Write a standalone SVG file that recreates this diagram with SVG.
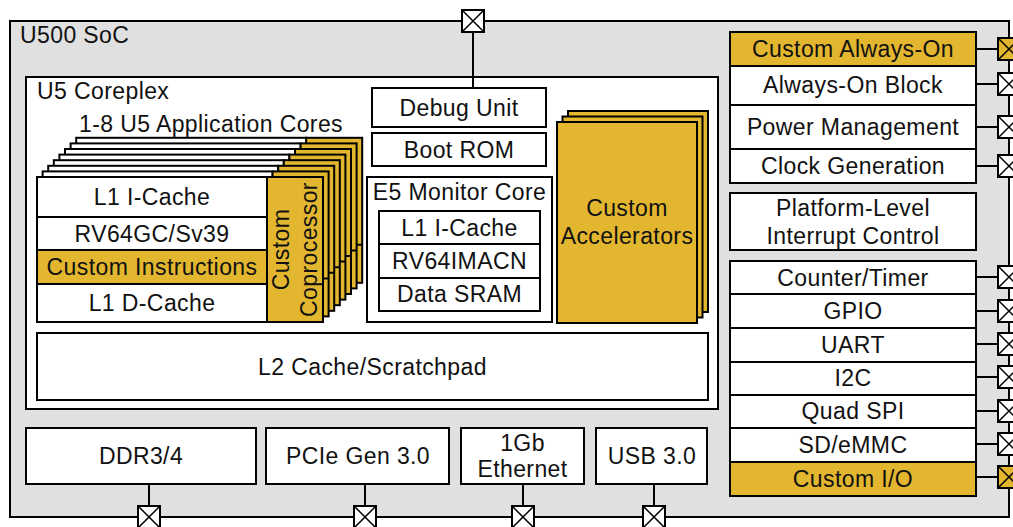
<svg xmlns="http://www.w3.org/2000/svg" width="1013" height="527" viewBox="0 0 1013 527">
<style>
.w{fill:#fff;stroke:#000;stroke-width:2}
.y{fill:#E3B62F;stroke:#000;stroke-width:2}
.g{fill:#e0e0e0;stroke:#000;stroke-width:2}
.t{font-family:"Liberation Sans",Arial,sans-serif;font-size:23px;letter-spacing:0.4px;fill:#111;text-anchor:middle}
.s{text-anchor:start}
.c{stroke:#000;stroke-width:2;fill:none}
</style>
<defs>
<g id="pinw"><rect x="-11" y="-11" width="22" height="22" fill="#fff" stroke="#000" stroke-width="2"/><path d="M-11,-11L11,11M11,-11L-11,11" stroke="#000" stroke-width="1.5"/></g>
<g id="piny"><rect x="-11" y="-11" width="22" height="22" fill="#E3B62F" stroke="#000" stroke-width="2"/><path d="M-11,-11L11,11M11,-11L-11,11" stroke="#000" stroke-width="1.5"/></g>
</defs>

<g id="soc">
<rect class="g" x="10" y="21" width="999" height="496"/>
<text class="t s" x="20" y="43">U500 SoC</text>
</g>

<g id="coreplex">
<rect class="w" x="26" y="77" width="692" height="332"/>
<text class="t s" x="37" y="99">U5 Coreplex</text>
</g>

<g id="app-cores">
<text class="t" x="211" y="132">1-8 U5 Application Cores</text>
<g id="core-stack">
<rect class="w" x="76.2" y="137.8" width="230" height="145"/><rect class="y" x="306.2" y="137.8" width="56" height="145"/><line class="c" x1="76.2" y1="244.8" x2="362.2" y2="244.8"/>
<rect class="w" x="70.6" y="143.4" width="230" height="145"/><rect class="y" x="300.6" y="143.4" width="56" height="145"/><line class="c" x1="70.6" y1="250.4" x2="356.6" y2="250.4"/>
<rect class="w" x="65" y="149" width="230" height="145"/><rect class="y" x="295" y="149" width="56" height="145"/><line class="c" x1="65" y1="256" x2="351" y2="256"/>
<rect class="w" x="59.4" y="154.6" width="230" height="145"/><rect class="y" x="289.4" y="154.6" width="56" height="145"/><line class="c" x1="59.4" y1="261.6" x2="345.4" y2="261.6"/>
<rect class="w" x="53.8" y="160.2" width="230" height="145"/><rect class="y" x="283.8" y="160.2" width="56" height="145"/><line class="c" x1="53.8" y1="267.2" x2="339.8" y2="267.2"/>
<rect class="w" x="48.2" y="165.8" width="230" height="145"/><rect class="y" x="278.2" y="165.8" width="56" height="145"/><line class="c" x1="48.2" y1="272.8" x2="334.2" y2="272.8"/>
<rect class="w" x="42.6" y="171.4" width="230" height="145"/><rect class="y" x="272.6" y="171.4" width="56" height="145"/><line class="c" x1="42.6" y1="278.4" x2="328.6" y2="278.4"/>
</g>
<g id="core-front">
<rect class="w" x="37" y="177" width="230" height="40"/>
<text class="t" x="152" y="205">L1 I-Cache</text>
<rect class="w" x="37" y="217" width="230" height="33"/>
<text class="t" x="152" y="242">RV64GC/Sv39</text>
<rect class="y" x="37" y="250" width="230" height="34"/>
<text class="t" x="152" y="275">Custom Instructions</text>
<rect class="w" x="37" y="284" width="230" height="38"/>
<text class="t" x="152" y="311">L1 D-Cache</text>
</g>
<g id="coprocessor">
<rect class="y" x="267" y="177" width="56" height="145"/>
<text class="t" transform="translate(288.5,249.5) rotate(-90)">Custom</text>
<text class="t" transform="translate(316.5,249.5) rotate(-90)">Coprocessor</text>
</g>
</g>

<g id="debug-unit">
<rect class="w" x="372" y="88" width="174" height="39"/>
<text class="t" x="459" y="116">Debug Unit</text>
</g>
<g id="boot-rom">
<rect class="w" x="372" y="133" width="174" height="33"/>
<text class="t" x="459" y="158">Boot ROM</text>
</g>
<g id="e5-monitor">
<rect class="w" x="367" y="177" width="185" height="145"/>
<text class="t" x="459.5" y="200">E5 Monitor Core</text>
<rect class="w" x="379" y="211" width="161" height="33"/>
<text class="t" x="459.5" y="236">L1 I-Cache</text>
<rect class="w" x="379" y="244" width="161" height="34"/>
<text class="t" x="459.5" y="269">RV64IMACN</text>
<rect class="w" x="379" y="278" width="161" height="33"/>
<text class="t" x="459.5" y="302">Data SRAM</text>
</g>

<g id="accelerators">
<rect class="y" x="568" y="111" width="140" height="201"/>
<rect class="y" x="562.5" y="116.5" width="140" height="201"/>
<rect class="y" x="557" y="122" width="140" height="201"/>
<text class="t" x="627" y="216">Custom</text>
<text class="t" x="627" y="244">Accelerators</text>
</g>

<g id="l2">
<rect class="w" x="37" y="333" width="671" height="67"/>
<text class="t" x="372.5" y="375">L2 Cache/Scratchpad</text>
</g>

<g id="always-on">
<rect class="y" x="730" y="32" width="246" height="34"/>
<text class="t" x="853" y="57">Custom Always-On</text>
<rect class="w" x="730" y="66" width="246" height="39"/>
<text class="t" x="853" y="93">Always-On Block</text>
<rect class="w" x="730" y="105" width="246" height="44"/>
<text class="t" x="853" y="135">Power Management</text>
<rect class="w" x="730" y="149" width="246" height="34"/>
<text class="t" x="853" y="174">Clock Generation</text>
</g>

<g id="plic">
<rect class="w" x="730" y="193" width="246" height="57"/>
<text class="t" x="853" y="216">Platform-Level</text>
<text class="t" x="853" y="244">Interrupt Control</text>
</g>

<g id="peripherals">
<rect class="w" x="730" y="261" width="246" height="33"/>
<text class="t" x="853" y="286">Counter/Timer</text>
<rect class="w" x="730" y="294" width="246" height="34"/>
<text class="t" x="853" y="319">GPIO</text>
<rect class="w" x="730" y="328" width="246" height="34"/>
<text class="t" x="853" y="353">UART</text>
<rect class="w" x="730" y="362" width="246" height="33"/>
<text class="t" x="853" y="386">I2C</text>
<rect class="w" x="730" y="395" width="246" height="33"/>
<text class="t" x="853" y="419">Quad SPI</text>
<rect class="w" x="730" y="428" width="246" height="34"/>
<text class="t" x="853" y="453">SD/eMMC</text>
<rect class="y" x="730" y="462" width="246" height="34"/>
<text class="t" x="853" y="487">Custom I/O</text>
</g>

<g id="ddr">
<rect class="w" x="26" y="428" width="230" height="56"/>
<text class="t" x="141" y="464">DDR3/4</text>
</g>
<g id="pcie">
<rect class="w" x="266" y="428" width="183" height="56"/>
<text class="t" x="358" y="464">PCIe Gen 3.0</text>
</g>
<g id="ethernet">
<rect class="w" x="461" y="428" width="123" height="56"/>
<text class="t" x="522.5" y="451">1Gb</text>
<text class="t" x="522.5" y="477">Ethernet</text>
</g>
<g id="usb">
<rect class="w" x="596" y="428" width="111" height="56"/>
<text class="t" x="652" y="464">USB 3.0</text>
</g>

<g id="connectors">
<line class="c" x1="473" y1="32" x2="473" y2="88"/>
<line class="c" x1="976" y1="49" x2="998" y2="49"/>
<line class="c" x1="976" y1="84" x2="998" y2="84"/>
<line class="c" x1="976" y1="127" x2="998" y2="127"/>
<line class="c" x1="976" y1="166" x2="998" y2="166"/>
<line class="c" x1="976" y1="277" x2="998" y2="277"/>
<line class="c" x1="976" y1="311" x2="998" y2="311"/>
<line class="c" x1="976" y1="344" x2="998" y2="344"/>
<line class="c" x1="976" y1="377" x2="998" y2="377"/>
<line class="c" x1="976" y1="411" x2="998" y2="411"/>
<line class="c" x1="976" y1="444" x2="998" y2="444"/>
<line class="c" x1="976" y1="477" x2="998" y2="477"/>
<line class="c" x1="149" y1="484" x2="149" y2="506"/>
<line class="c" x1="365" y1="484" x2="365" y2="506"/>
<line class="c" x1="523" y1="484" x2="523" y2="506"/>
<line class="c" x1="654" y1="484" x2="654" y2="506"/>
</g>

<g id="pins">
<use href="#pinw" x="473" y="21"/>
<use href="#piny" x="1009" y="49"/>
<use href="#pinw" x="1009" y="84"/>
<use href="#pinw" x="1009" y="127"/>
<use href="#pinw" x="1009" y="166"/>
<use href="#pinw" x="1009" y="277"/>
<use href="#pinw" x="1009" y="311"/>
<use href="#pinw" x="1009" y="344"/>
<use href="#pinw" x="1009" y="377"/>
<use href="#pinw" x="1009" y="411"/>
<use href="#pinw" x="1009" y="444"/>
<use href="#piny" x="1009" y="477"/>
<use href="#pinw" x="149" y="517"/>
<use href="#pinw" x="365" y="517"/>
<use href="#pinw" x="523" y="517"/>
<use href="#pinw" x="654" y="517"/>
</g>
</svg>
